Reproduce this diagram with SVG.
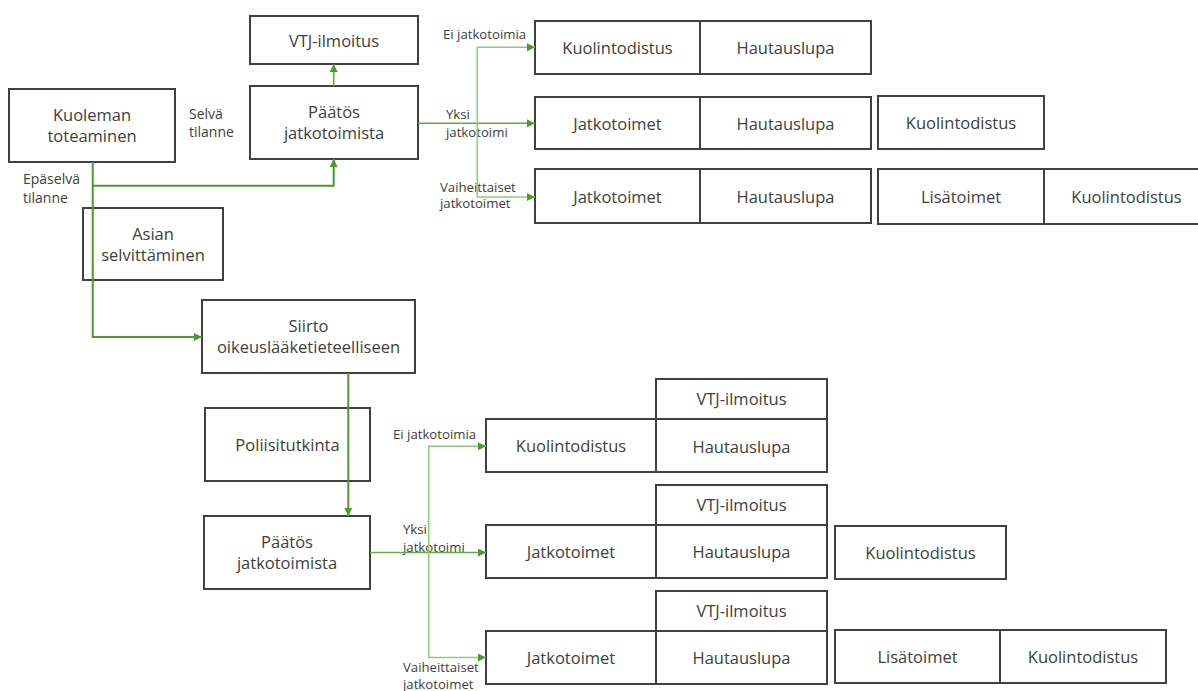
<svg xmlns="http://www.w3.org/2000/svg" width="1198" height="691" viewBox="0 0 1198 691">
  <style>
    .box { fill: #ffffff; stroke: #404040; stroke-width: 2; }
    .t { font-family: "Open Sans", "Noto Sans", "Liberation Sans", sans-serif; font-size: 16.5px; fill: #404040; text-anchor: middle; }
    .lbl { font-family: "Open Sans", "Noto Sans", "Liberation Sans", sans-serif; font-size: 14px; fill: #404040; }
    .lbs { font-family: "Open Sans", "Noto Sans", "Liberation Sans", sans-serif; font-size: 13.2px; fill: #404040; }
    .dk { fill: none; stroke: #4b9b2c; stroke-width: 2; }
    .md { fill: none; stroke: #5fae42; stroke-width: 1.6; }
    .lt { fill: none; stroke: #8ccc7a; stroke-width: 1.6; }
  </style>
  <defs>
    <marker id="arr" viewBox="0 0 8 8" refX="8" refY="4" markerWidth="8" markerHeight="8" markerUnits="userSpaceOnUse" orient="auto">
      <path d="M0,0 L8,4 L0,8 z" fill="#4b9b2c"/>
    </marker>
  </defs>

  <rect width="1198" height="691" fill="#ffffff"/>

  <!-- edge labels -->
  <g id="labels">
    <text class="lbl" x="189" y="119">Selvä</text>
    <text class="lbl" x="189" y="137">tilanne</text>
    <text class="lbl" x="23" y="184">Epäselvä</text>
    <text class="lbl" x="23" y="203">tilanne</text>

    <text class="lbs" x="443" y="39">Ei jatkotoimia</text>
    <text class="lbs" x="446" y="119">Yksi</text>
    <text class="lbs" x="446" y="137">jatkotoimi</text>
    <text class="lbs" x="440" y="192">Vaiheittaiset</text>
    <text class="lbs" x="440" y="208">jatkotoimet</text>

    <text class="lbs" x="393" y="439">Ei jatkotoimia</text>
    <text class="lbs" x="403" y="534">Yksi</text>
    <text class="lbs" x="403" y="552">jatkotoimi</text>
    <text class="lbs" x="403" y="672">Vaiheittaiset</text>
    <text class="lbs" x="403" y="689">jatkotoimet</text>
  </g>

  <!-- upper flow -->
  <g id="kuoleman">
    <rect class="box" x="9" y="89" width="166" height="73"/>
    <text class="t" x="92" y="120.7">Kuoleman</text>
    <text class="t" x="92" y="141.7">toteaminen</text>
  </g>
  <g id="vtj-top">
    <rect class="box" x="250" y="16" width="168" height="48"/>
    <text class="t" x="334" y="46.5">VTJ-ilmoitus</text>
  </g>
  <g id="paatos-top">
    <rect class="box" x="250" y="86" width="168" height="73"/>
    <text class="t" x="334" y="118.3">Päätös</text>
    <text class="t" x="334" y="139.3">jatkotoimista</text>
  </g>
  <g id="asian">
    <rect class="box" x="83" y="208" width="140" height="72"/>
    <text class="t" x="153" y="240">Asian</text>
    <text class="t" x="153" y="261">selvittäminen</text>
  </g>

  <!-- upper outcomes: no further actions -->
  <g id="u1-kuolintodistus">
    <rect class="box" x="535" y="21" width="165" height="53"/>
    <text class="t" x="617.5" y="54">Kuolintodistus</text>
  </g>
  <g id="u1-hautauslupa">
    <rect class="box" x="700" y="21" width="171" height="53"/>
    <text class="t" x="785.5" y="54">Hautauslupa</text>
  </g>

  <!-- upper outcomes: one action -->
  <g id="u2-jatkotoimet">
    <rect class="box" x="535" y="97" width="165" height="52"/>
    <text class="t" x="617.5" y="129.5">Jatkotoimet</text>
  </g>
  <g id="u2-hautauslupa">
    <rect class="box" x="700" y="97" width="171" height="52"/>
    <text class="t" x="785.5" y="129.5">Hautauslupa</text>
  </g>
  <g id="u2-kuolintodistus">
    <rect class="box" x="878" y="96" width="166" height="53"/>
    <text class="t" x="961" y="129">Kuolintodistus</text>
  </g>

  <!-- upper outcomes: staged actions -->
  <g id="u3-jatkotoimet">
    <rect class="box" x="535" y="169" width="165" height="54"/>
    <text class="t" x="617.5" y="202.5">Jatkotoimet</text>
  </g>
  <g id="u3-hautauslupa">
    <rect class="box" x="700" y="169" width="171" height="54"/>
    <text class="t" x="785.5" y="202.5">Hautauslupa</text>
  </g>
  <g id="u3-lisatoimet">
    <rect class="box" x="878" y="169" width="166" height="55"/>
    <text class="t" x="961" y="203">Lisätoimet</text>
  </g>
  <g id="u3-kuolintodistus">
    <rect class="box" x="1044" y="169" width="165" height="55"/>
    <text class="t" x="1126.5" y="203">Kuolintodistus</text>
  </g>

  <!-- forensic branch -->
  <g id="siirto">
    <rect class="box" x="202" y="300" width="213" height="73"/>
    <text class="t" x="308.5" y="332.3">Siirto</text>
    <text class="t" x="308.5" y="353.3">oikeuslääketieteelliseen</text>
  </g>
  <g id="poliisitutkinta">
    <rect class="box" x="205" y="408" width="165" height="73"/>
    <text class="t" x="287.5" y="451">Poliisitutkinta</text>
  </g>
  <g id="paatos-bottom">
    <rect class="box" x="204" y="516" width="166" height="73"/>
    <text class="t" x="287" y="548.3">Päätös</text>
    <text class="t" x="287" y="569.3">jatkotoimista</text>
  </g>

  <!-- lower outcomes: no further actions -->
  <g id="l1-vtj">
    <rect class="box" x="656" y="379" width="171" height="40"/>
    <text class="t" x="741.5" y="405">VTJ-ilmoitus</text>
  </g>
  <g id="l1-kuolintodistus">
    <rect class="box" x="486" y="419" width="170" height="53"/>
    <text class="t" x="571" y="452">Kuolintodistus</text>
  </g>
  <g id="l1-hautauslupa">
    <rect class="box" x="656" y="419" width="171" height="53"/>
    <text class="t" x="741.5" y="452.5">Hautauslupa</text>
  </g>

  <!-- lower outcomes: one action -->
  <g id="l2-vtj">
    <rect class="box" x="656" y="485" width="171" height="40"/>
    <text class="t" x="741.5" y="511">VTJ-ilmoitus</text>
  </g>
  <g id="l2-jatkotoimet">
    <rect class="box" x="486" y="525" width="170" height="53"/>
    <text class="t" x="571" y="558">Jatkotoimet</text>
  </g>
  <g id="l2-hautauslupa">
    <rect class="box" x="656" y="525" width="171" height="53"/>
    <text class="t" x="741.5" y="558">Hautauslupa</text>
  </g>
  <g id="l2-kuolintodistus">
    <rect class="box" x="835" y="526" width="171" height="53"/>
    <text class="t" x="920.5" y="558.5">Kuolintodistus</text>
  </g>

  <!-- lower outcomes: staged actions -->
  <g id="l3-vtj">
    <rect class="box" x="656" y="591" width="171" height="40"/>
    <text class="t" x="741.5" y="617">VTJ-ilmoitus</text>
  </g>
  <g id="l3-jatkotoimet">
    <rect class="box" x="486" y="631" width="170" height="53"/>
    <text class="t" x="571" y="664">Jatkotoimet</text>
  </g>
  <g id="l3-hautauslupa">
    <rect class="box" x="656" y="631" width="171" height="53"/>
    <text class="t" x="741.5" y="664">Hautauslupa</text>
  </g>
  <g id="l3-lisatoimet">
    <rect class="box" x="835" y="630" width="165" height="53"/>
    <text class="t" x="917.5" y="662.5">Lisätoimet</text>
  </g>
  <g id="l3-kuolintodistus">
    <rect class="box" x="1000" y="630" width="166" height="53"/>
    <text class="t" x="1083" y="662.5">Kuolintodistus</text>
  </g>

  <!-- connectors, drawn last so they run over the boxes they cross -->
  <g id="connectors">
    <path class="dk" d="M92.7,162 V337 H202" marker-end="url(#arr)"/>
    <path class="dk" d="M92.7,185.7 H333.7 V159" marker-end="url(#arr)"/>
    <path class="md" d="M333.7,86 V64" marker-end="url(#arr)"/>
    <path class="md" d="M418,123.3 H535" marker-end="url(#arr)"/>
    <path class="lt" d="M477.3,123.3 V47.3 H535" marker-end="url(#arr)"/>
    <path class="lt" d="M477.3,123.3 V197 H535" marker-end="url(#arr)"/>

    <path class="dk" d="M348.3,373 V516" marker-end="url(#arr)"/>
    <path class="md" d="M370,552.5 H486" marker-end="url(#arr)"/>
    <path class="lt" d="M428.7,552.5 V446.3 H486" marker-end="url(#arr)"/>
    <path class="lt" d="M428.7,552.5 V657.5 H486" marker-end="url(#arr)"/>
  </g>
</svg>
